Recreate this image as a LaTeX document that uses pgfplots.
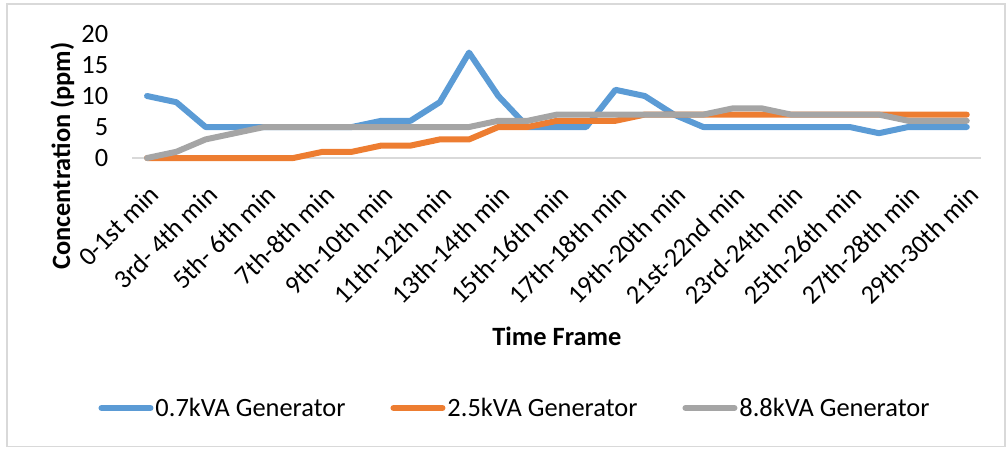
\documentclass[border=0pt]{standalone}
\usepackage{fontspec}
\setmainfont{Carlito}
\usepackage{pgfplots}
\usepackage{pgfplotstable}
\pgfplotsset{compat=1.18}

\definecolor{serA}{HTML}{5B9BD5}
\definecolor{serB}{HTML}{ED7D31}
\definecolor{serC}{HTML}{A5A5A5}
\definecolor{frameclr}{HTML}{D9D9D9}

% concentration (ppm) per time slot
\pgfplotstableread{
idx gA gB gC
0  10 0 0
1  9  0 1
2  5  0 3
3  5  0 4
4  5  0 5
5  5  0 5
6  5  1 5
7  5  1 5
8  6  2 5
9  6  2 5
10 9  3 5
11 17 3 5
12 10 5 6
13 5  5 6
14 5  6 7
15 5  6 7
16 11 6 7
17 10 7 7
18 7  7 7
19 5  7 7
20 5  7 8
21 5  7 8
22 5  7 7
23 5  7 7
24 5  7 7
25 4  7 7
26 5  7 6
27 5  7 6
28 5  7 6
}\conc

\newcommand{\chartfont}{\fontsize{26.4}{31}\selectfont}

\begin{document}
\begin{tikzpicture}[x=1pt,y=1pt]
\path[use as bounding box] (0,0) rectangle (1008,448);
\draw[frameclr, line width=1.2pt] (7,1.5) rectangle (1005,444);
\begin{axis}[
  at={(132.4pt,290pt)}, anchor=south west,
  scale only axis, width=849pt, height=124pt,
  xmin=-0.5, xmax=28.5, ymin=0, ymax=20,
  clip=false,
  axis x line*=bottom, axis y line*=left,
  x axis line style={frameclr, line width=1.5pt, -},
  y axis line style={draw=none},
  major tick length=0pt, tick style={draw=none},
  ytick={0,5,10,15,20},
  xtick={0,2,...,28},
  xticklabels={0-1st min,3rd- 4th min,5th- 6th min,7th-8th min,9th-10th min,11th-12th min,13th-14th min,15th-16th min,17th-18th min,19th-20th min,21st-22nd min,23rd-24th min,25th-26th min,27th-28th min,29th-30th min},
  /pgf/number format/assume math mode=true,
  ticklabel style={font=\chartfont},
  yticklabel style={anchor=east, inner sep=0pt, xshift=-24pt},
  xticklabel style={anchor=east, inner sep=0pt, xshift=7pt, yshift=-32pt, rotate=45},
  xlabel={\textbf{Time Frame}},
  xlabel style={at={(axis description cs:0.5,-1.435)}, anchor=center, font=\chartfont},
  ylabel={\textbf{Concentration (ppm)}},
  ylabel style={at={(axis description cs:-0.0824,0.016)}, anchor=center, font=\chartfont},
  legend columns=3,
  legend style={at={(axis description cs:0.4506,-2.016)}, anchor=center, draw=none, fill=none,
    font=\chartfont, nodes={inner sep=2pt},
    /tikz/every even column/.append style={column sep=43pt}},
  legend image code/.code={\draw[#1, line width=6pt, line cap=round] (3pt,0pt) -- (52pt,0pt);},
]
\addplot[serA, line width=6pt, line join=round, line cap=round] table[x=idx,y=gA]{\conc};
\addlegendentry{0.7kVA Generator}
\addplot[serB, line width=6pt, line join=round, line cap=round] table[x=idx,y=gB]{\conc};
\addlegendentry{2.5kVA Generator}
\addplot[serC, line width=6pt, line join=round, line cap=round] table[x=idx,y=gC]{\conc};
\addlegendentry{8.8kVA Generator}
\end{axis}
\end{tikzpicture}
\end{document}
